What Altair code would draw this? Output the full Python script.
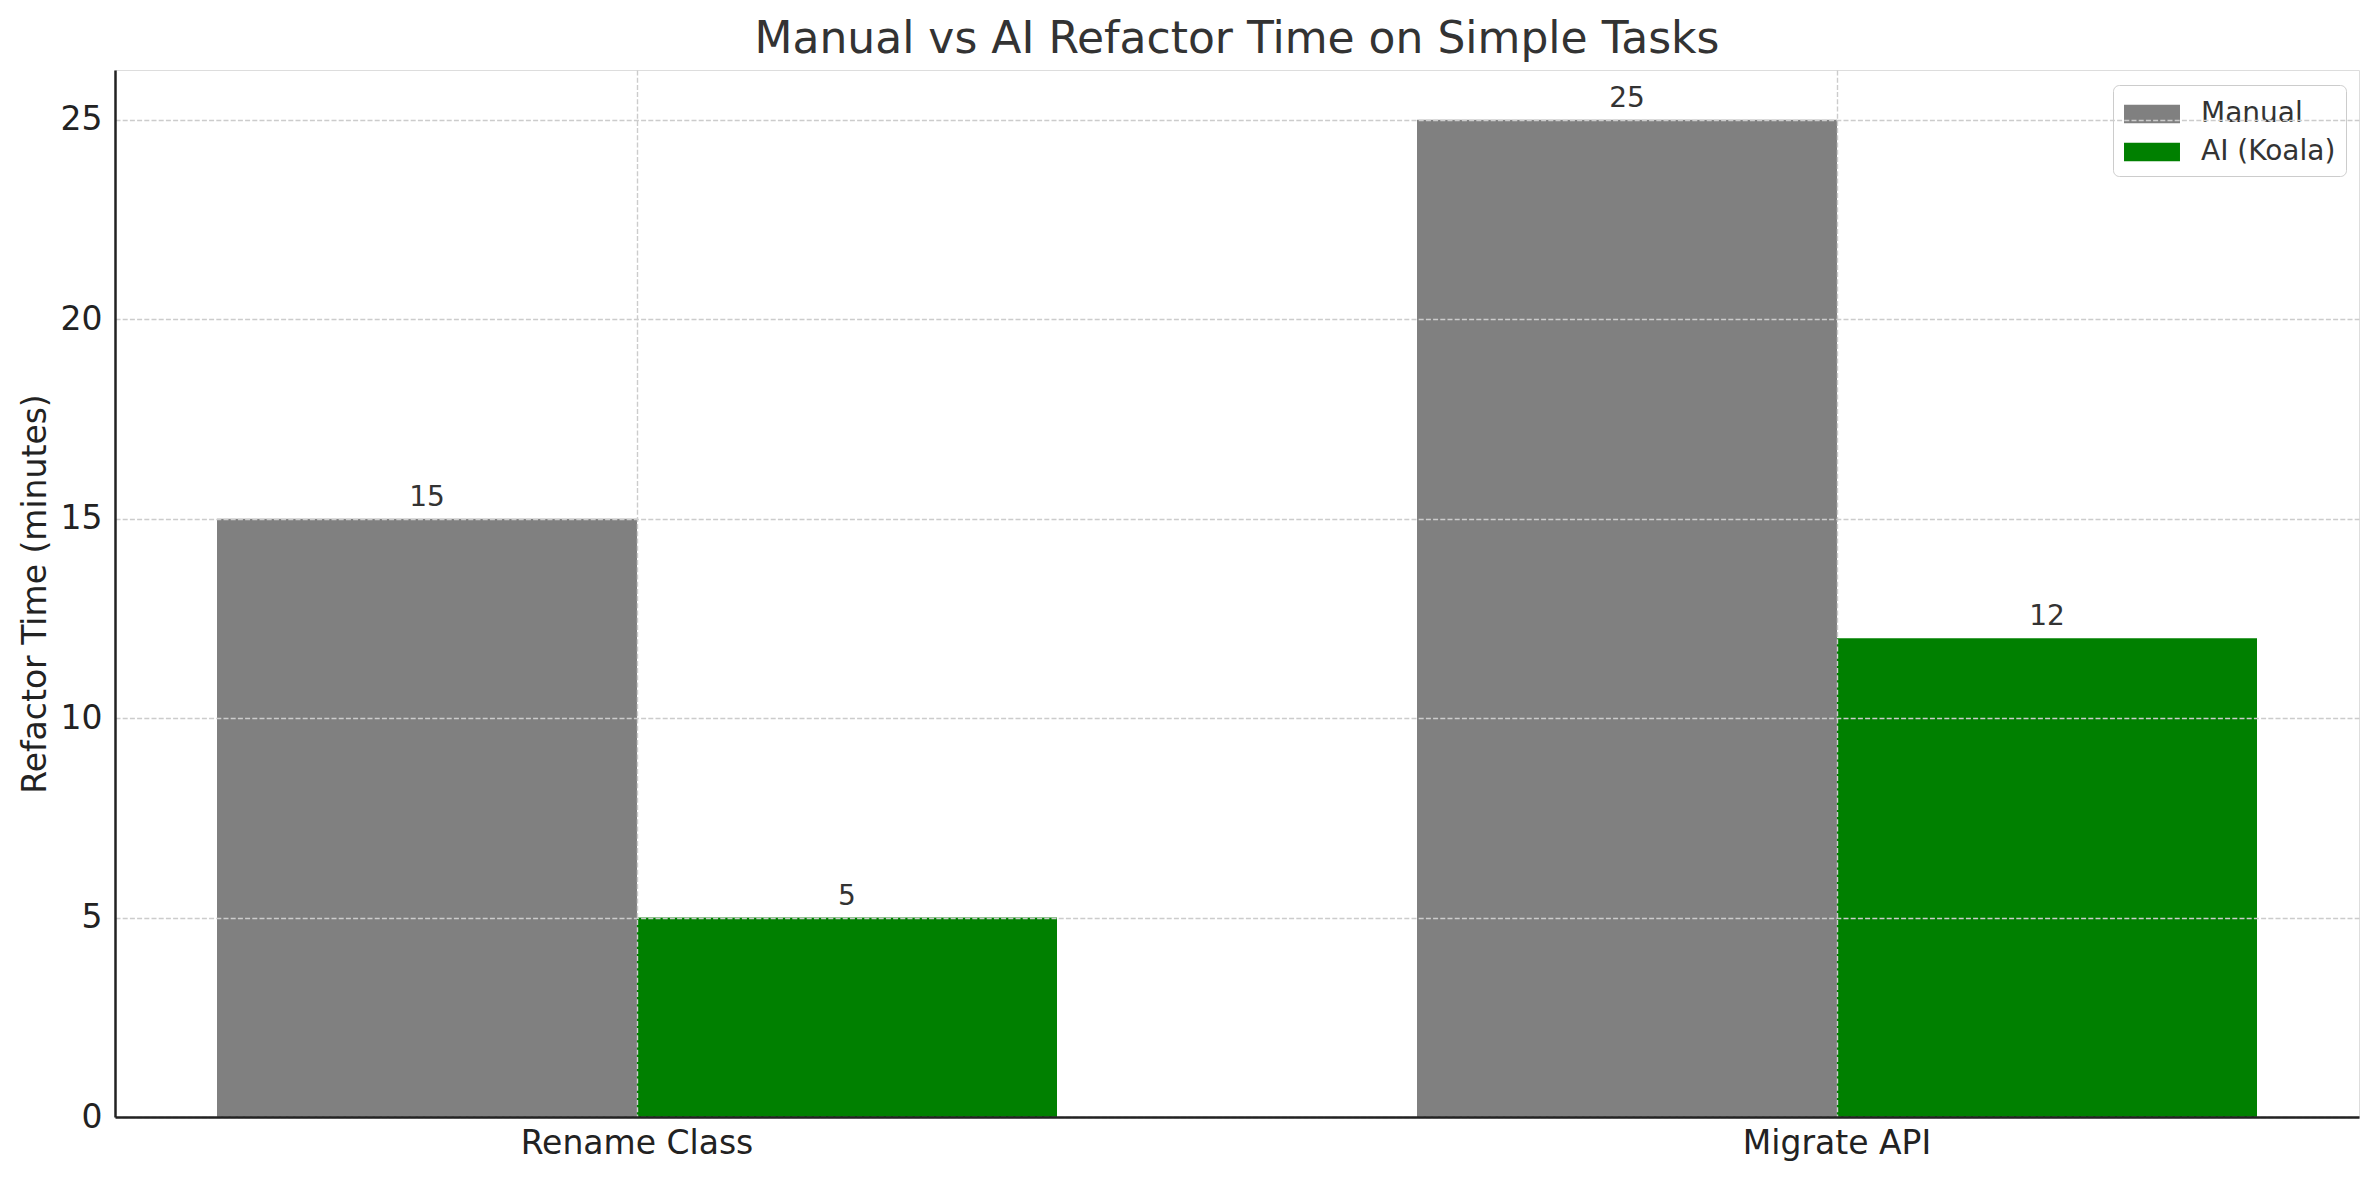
import altair as alt
import pandas as pd

tasks = ["Rename Class", "Migrate API"]
series = ["Manual", "AI (Koala)"]
manual = [15, 25]
ai = [5, 12]
colors = ["#808080", "#008000"]

rows = []
for i, t in enumerate(tasks):
    rows.append({"task": t, "series": series[0], "minutes": manual[i]})
    rows.append({"task": t, "series": series[1], "minutes": ai[i]})
df = pd.DataFrame(rows)

FONT = "DejaVu Sans"
AXC = "#222222"

xscale = alt.Scale(domain=tasks, paddingInner=0.3, paddingOuter=0.085)
yscale = alt.Scale(domain=[0, 26.25], nice=False, zero=True)
offscale = alt.Scale(domain=series, paddingInner=0, paddingOuter=0)

base = alt.Chart(df)

bars = base.mark_bar().encode(
    x=alt.X("task:N", sort=tasks, scale=xscale,
            axis=alt.Axis(title=None, grid=True, bandPosition=0.5, ticks=False, tickSize=0,
                          labelPadding=10, labelFontSize=33, labelFont=FONT, labelColor=AXC,
                          labelAngle=0, labelLimit=0, domainColor=AXC, domainWidth=2.5,
                          gridColor="#cccccc", gridWidth=1.4, gridDash=[5, 2.2], zindex=1)),
    xOffset=alt.XOffset("series:N", sort=series, scale=offscale),
    y=alt.Y("minutes:Q", scale=yscale,
            axis=alt.Axis(title="Refactor Time (minutes)", values=[0, 5, 10, 15, 20, 25],
                          grid=True, ticks=False, tickSize=0, labelPadding=13,
                          labelFontSize=33, labelFont=FONT, labelColor=AXC,
                          titleFontSize=33, titleFont=FONT, titleColor=AXC, titleFontWeight="normal",
                          titlePadding=8, domainColor=AXC, domainWidth=2.5,
                          gridColor="#cccccc", gridWidth=1.4, gridDash=[5, 2.2], zindex=1)),
    color=alt.Color("series:N", sort=series, scale=alt.Scale(domain=series, range=colors),
                    legend=alt.Legend(title=None, orient="none", legendX=1998, legendY=15,
                                      labelFontSize=28, labelFont=FONT, labelColor="#333333",
                                      symbolType="M-1.5,-0.5H1.5V0.5H-1.5Z", symbolSize=1393,
                                      symbolStrokeWidth=0, symbolOpacity=1, symbolOffset=10,
                                      fillColor="white", strokeColor="#cccccc", cornerRadius=6,
                                      padding=10, rowPadding=5, labelOffset=30)),
)

labels = base.mark_text(fontSize=28, font=FONT, color="#333333", baseline="alphabetic", dy=-13).encode(
    x=alt.X("task:N", sort=tasks, scale=xscale),
    xOffset=alt.XOffset("series:N", sort=series, scale=offscale),
    y=alt.Y("minutes:Q", scale=yscale),
    text=alt.Text("minutes:Q"),
)

chart = alt.layer(bars, labels).properties(
    width=2244,
    height=1047,
    padding={"left": 107, "top": 62, "right": 12, "bottom": 45},
    autosize=alt.AutoSizeParams(type="none"),
    title=alt.TitleParams("Manual vs AI Refactor Time on Simple Tasks", fontSize=44, font=FONT,
                          color="#333333", fontWeight="normal", anchor="middle",
                          baseline="bottom", offset=6, dy=42),
).configure_view(strokeWidth=0).configure(background="white")

chart.save("out.html", embed_options={"renderer": "svg", "actions": False})
